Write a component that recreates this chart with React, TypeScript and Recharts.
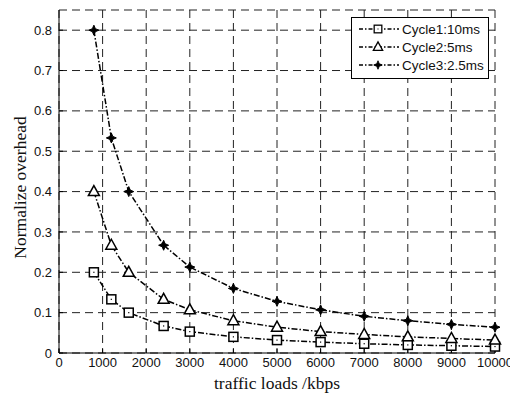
import { LineChart, Line, XAxis, YAxis, CartesianGrid } from "recharts";

const loads = [800, 1200, 1600, 2400, 3000, 4000, 5000, 6000, 7000, 8000, 9000, 10000];
const cycle1 = [0.2, 0.133, 0.1, 0.067, 0.053, 0.04, 0.032, 0.027, 0.023, 0.02, 0.018, 0.016];
const cycle2 = [0.4, 0.267, 0.2, 0.133, 0.107, 0.08, 0.064, 0.053, 0.046, 0.04, 0.036, 0.032];
const cycle3 = [0.8, 0.533, 0.4, 0.267, 0.213, 0.16, 0.128, 0.107, 0.091, 0.08, 0.071, 0.064];
const xTicks = [0, 1000, 2000, 3000, 4000, 5000, 6000, 7000, 8000, 9000, 10000];
const yTicks = [0, 0.1, 0.2, 0.3, 0.4, 0.5, 0.6, 0.7, 0.8];
const seriesNames = ["Cycle1:10ms", "Cycle2:5ms", "Cycle3:2.5ms"];

const data = loads.map((x, i) => ({ x, c1: cycle1[i], c2: cycle2[i], c3: cycle3[i] }));

const INK = "#000";
const DASH = "6 2 1.5 2";
const sans = "Liberation Sans, Arial, sans-serif";
const serif = "Liberation Serif, Times New Roman, serif";
const tickFont = { fontFamily: sans, fontSize: 13, fill: "#111" };

function Square({ cx, cy }: any) {
  if (cx == null || cy == null) return null;
  return (
    <g>
      <rect x={cx - 4.5} y={cy - 4.5} width={9} height={9} fill="#fff" stroke={INK} strokeWidth={1.5} />
      <rect x={cx - 0.6} y={cy - 0.6} width={1.2} height={1.2} fill={INK} />
    </g>
  );
}

function Triangle({ cx, cy }: any) {
  if (cx == null || cy == null) return null;
  return (
    <path
      d={`M${cx},${cy - 6} L${cx + 5.5},${cy + 4} L${cx - 5.5},${cy + 4} Z`}
      fill="#fff"
      stroke={INK}
      strokeWidth={1.5}
    />
  );
}

function Star({ cx, cy }: any) {
  if (cx == null || cy == null) return null;
  return (
    <path
      d={`M${cx},${cy - 5} L${cx + 1.5},${cy - 1.5} L${cx + 5},${cy} L${cx + 1.5},${cy + 1.5} L${cx},${cy + 5} L${cx - 1.5},${cy + 1.5} L${cx - 5},${cy} L${cx - 1.5},${cy - 1.5} Z`}
      fill={INK}
      stroke={INK}
      strokeWidth={1}
    />
  );
}

const markers = [Square, Triangle, Star];

// legend drawn outside recharts so it doesn't eat plot height
function LegendBox() {
  return (
    <div
      style={{
        position: "absolute",
        left: 351,
        top: 17,
        border: "1px solid #000",
        background: "#fff",
        width: 138,
        height: 62,
        boxSizing: "border-box",
        padding: "2px 0 0 6px",
      }}
    >
      {seriesNames.map((name, i) => {
        const M = markers[i];
        return (
          <div key={name} style={{ display: "flex", alignItems: "center", height: 18 }}>
            <svg width={42} height={14}>
              <line x1={1} y1={7} x2={41} y2={7} stroke={INK} strokeWidth={1.5} strokeDasharray="4 2 1.5 2" />
              <g transform="translate(20,7) scale(0.85) translate(-20,-7)">
                <M cx={20} cy={7} />
              </g>
            </svg>
            <span style={{ fontFamily: sans, fontSize: 13.5, color: "#111", marginLeft: 2 }}>{name}</span>
          </div>
        );
      })}
    </div>
  );
}

function YLabel({ viewBox }: any) {
  const cy = viewBox.y + viewBox.height / 2 + 6;
  return (
    <text
      x={20}
      y={cy}
      transform={`rotate(-90, 20, ${cy})`}
      textAnchor="middle"
      dominantBaseline="central"
      style={{ fontFamily: serif, fontSize: 17.5, fill: "#111" }}
    >
      Normalize overhead
    </text>
  );
}

export default function App() {
  return (
    <div style={{ position: "relative", width: 510, height: 396, background: "#fff", overflow: "hidden" }}>
      <style>{"body{margin:0}"}</style>
      <LineChart width={510} height={396} data={data} margin={{ top: 10, right: 15, bottom: 13, left: 14 }}>
        <CartesianGrid stroke="#222" strokeDasharray="8 5" />
        <XAxis
          dataKey="x"
          type="number"
          domain={[0, 10000]}
          ticks={xTicks}
          interval={0}
          height={30}
          tick={tickFont}
          tickSize={-4}
          tickMargin={9}
          stroke={INK}
          label={{
            value: "traffic loads /kbps",
            position: "insideBottom",
            offset: -6,
            style: { fontFamily: serif, fontSize: 17.5, fill: "#111" },
          }}
        />
        <XAxis
          xAxisId="top"
          orientation="top"
          type="number"
          domain={[0, 10000]}
          ticks={xTicks}
          tick={false}
          tickSize={-4}
          height={0}
          stroke={INK}
        />
        <YAxis
          type="number"
          domain={[0, 0.85]}
          ticks={yTicks}
          interval={0}
          width={45}
          tick={tickFont}
          tickSize={-4}
          tickMargin={11}
          stroke={INK}
          label={<YLabel />}
        />
        <YAxis
          yAxisId="right"
          orientation="right"
          type="number"
          domain={[0, 0.85]}
          ticks={yTicks}
          tick={false}
          tickSize={-4}
          width={0}
          stroke={INK}
        />
        <Line dataKey="c1" name={seriesNames[0]} stroke={INK} strokeWidth={1.5} strokeDasharray={DASH} dot={<Square />} isAnimationActive={false} />
        <Line dataKey="c2" name={seriesNames[1]} stroke={INK} strokeWidth={1.5} strokeDasharray={DASH} dot={<Triangle />} isAnimationActive={false} />
        <Line dataKey="c3" name={seriesNames[2]} stroke={INK} strokeWidth={1.5} strokeDasharray={DASH} dot={<Star />} isAnimationActive={false} />
      </LineChart>
      <LegendBox />
    </div>
  );
}
